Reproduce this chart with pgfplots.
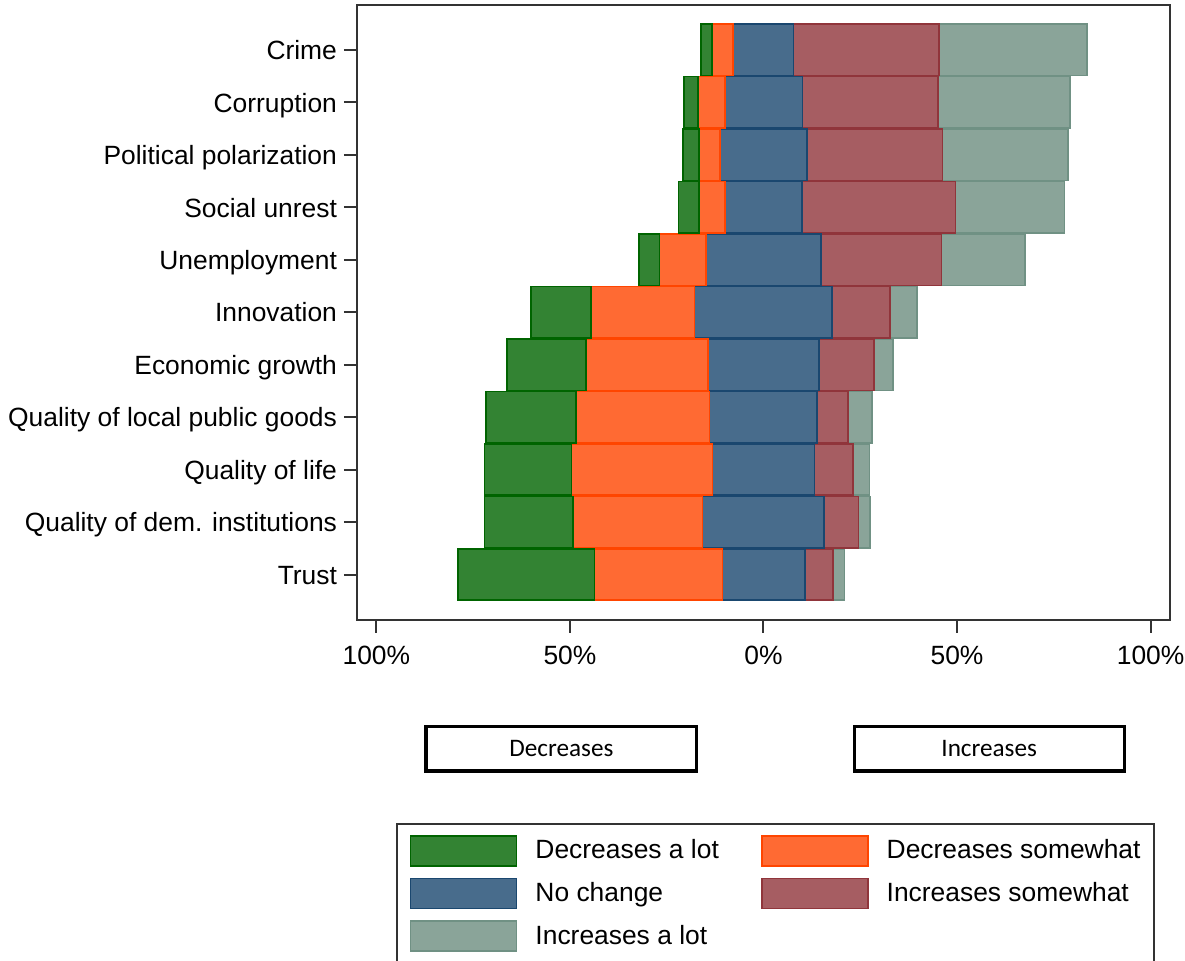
\documentclass[border=0pt]{standalone}
\usepackage{fontspec}
\setmainfont{Liberation Sans}
\newfontfamily\calibri{Carlito}
\usepackage{pgfplots}
\usepackage{pgfplotstable}
\pgfplotsset{compat=1.18}

\definecolor{dalfill}{RGB}{51,131,51}
\definecolor{daldraw}{RGB}{0,100,0}
\definecolor{dsfill}{RGB}{255,106,51}
\definecolor{dsdraw}{RGB}{255,69,0}
\definecolor{ncfill}{RGB}{72,108,140}
\definecolor{ncdraw}{RGB}{26,71,111}
\definecolor{isfill}{RGB}{166,93,98}
\definecolor{isdraw}{RGB}{144,53,59}
\definecolor{ialfill}{RGB}{138,164,153}
\definecolor{ialdraw}{RGB}{112,145,132}

% off = left edge of each bar (No change is centred on 0), then shares in %
\pgfplotstableread{
idx off dal ds nc is ial
0 -16.2 2.9 5.5 15.5 37.7 38.2
1 -20.6 3.7 6.9 20.1 35.0 34.0
2 -20.8 4.2 5.3 22.6 34.9 32.5
3 -22.0 5.4 6.6 20.0 39.6 28.1
4 -32.1 5.2 12.0 29.8 31.1 21.6
5 -60.1 15.6 26.7 35.5 15.0 6.9
6 -66.3 20.5 31.4 28.7 14.3 4.8
7 -71.7 23.3 34.5 27.7 8.1 6.2
8 -72.1 22.5 36.4 26.4 9.9 4.3
9 -72.1 22.9 33.4 31.5 8.8 3.0
10 -78.9 35.3 33.0 21.3 7.2 3.0
}\likert

\begin{document}
\begin{tikzpicture}
\useasboundingbox (-178.5pt,-170.5pt) rectangle (414pt,310pt);
\begin{axis}[
  at={(0pt,0pt)}, anchor=south west,
  scale only axis, width=406.5pt, height=307.5pt,
  xbar stacked, stack negative=on previous, bar width=0.98,
  xmin=-105, xmax=105, ymin=-0.854, ymax=10.867, y dir=reverse,
  clip=false,
  axis line style={line width=1.2pt, black!80},
  tick pos=left, tick align=outside, major tick length=6.5pt,
  tick style={line width=1pt, black!80},
  xtick={-100,-50,0,50,100},
  xticklabels={100\%,50\%,0\%,50\%,100\%},
  ytick={0,...,10},
  yticklabels={Crime,Corruption,Political polarization,Social unrest,Unemployment,Innovation,Economic growth,Quality of local public goods,Quality of life,Quality of dem. institutions,Trust},
  tick label style={font=\fontsize{13.2}{15.8}\selectfont},
  xticklabel style={yshift=-3pt},
  yticklabel style={text height=0.72em, text depth=0pt, yshift=-1.3pt},
  legend columns=2,
  legend cell align=left,
  legend image code/.code={\draw[#1, line width=0.8pt] (0pt,-7.5pt) rectangle (53pt,7.5pt); \path (62pt,0pt);},
  legend style={at={(0.0476,-0.330)}, anchor=north west, draw=black!80, line width=1pt,
    inner xsep=6.5pt, inner ysep=5.5pt, font=\fontsize{13.2}{15.8}\selectfont,
    nodes={inner sep=0pt}, row sep=5.5pt,
    /tikz/every even column/.append style={column sep=21pt}},
]
% legend swatches first; the plots below get no entries
\addlegendimage{fill=dalfill, draw=daldraw}
\addlegendentry{Decreases a lot}
\addlegendimage{fill=dsfill, draw=dsdraw}
\addlegendentry{Decreases somewhat}
\addlegendimage{fill=ncfill, draw=ncdraw}
\addlegendentry{No change}
\addlegendimage{fill=isfill, draw=isdraw}
\addlegendentry{Increases somewhat}
\addlegendimage{fill=ialfill, draw=ialdraw}
\addlegendentry{Increases a lot}

\addplot[draw=none, fill=none] table[x=off, y=idx] {\likert};
\addplot[fill=dalfill, draw=daldraw, line width=0.8pt] table[x=dal, y=idx] {\likert};
\addplot[fill=dsfill, draw=dsdraw, line width=0.8pt] table[x=ds, y=idx] {\likert};
\addplot[fill=ncfill, draw=ncdraw, line width=0.8pt] table[x=nc, y=idx] {\likert};
\addplot[fill=isfill, draw=isdraw, line width=0.8pt] table[x=is, y=idx] {\likert};
\addplot[fill=ialfill, draw=ialdraw, line width=0.8pt] table[x=ial, y=idx] {\likert};

\draw[line width=1.6pt] (axis cs:-87.2,12.89) rectangle (axis cs:-17.3,13.745);
\node[font=\calibri\fontsize{12.6}{15}\selectfont] at (axis cs:-52.2,13.32) {Decreases};
\draw[line width=1.6pt] (axis cs:23.5,12.89) rectangle (axis cs:93.2,13.745);
\node[font=\calibri\fontsize{12.6}{15}\selectfont] at (axis cs:58.3,13.32) {Increases};
\end{axis}
\end{tikzpicture}
\end{document}
